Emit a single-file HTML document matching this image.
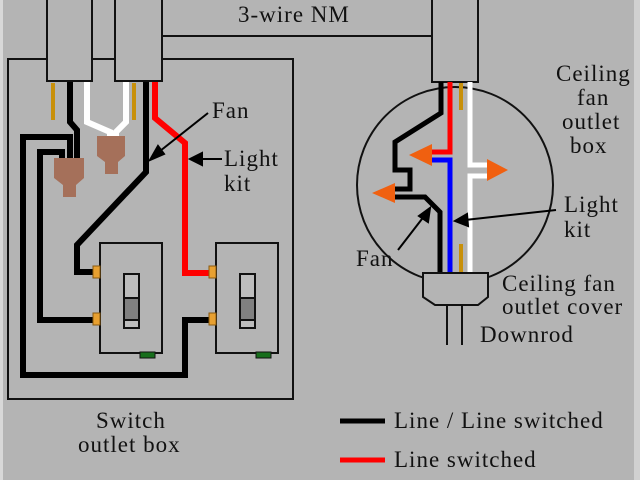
<!DOCTYPE html>
<html><head><meta charset="utf-8"><style>
html,body{margin:0;padding:0;background:#b4b4b4;}
svg{display:block;}
text{font-family:"Liberation Serif","DejaVu Serif",serif;fill:#111;font-size:23px;letter-spacing:1px;}
</style></head><body>
<svg width="640" height="480" viewBox="0 0 640 480">
<rect x="0" y="0" width="640" height="480" fill="#b4b4b4"/>
<rect x="0" y="0" width="3" height="480" fill="#d8d8d8"/>
<rect x="634" y="0" width="6" height="480" fill="#d0d0d0"/>
<g fill="none" stroke="#111" stroke-width="2">
<rect x="8" y="59" width="285" height="340"/>
<polyline points="162,81 162,36 432,36"/>
<rect x="47" y="-2" width="45" height="83" fill="#b4b4b4"/>
<rect x="115" y="-2" width="47" height="83" fill="#b4b4b4"/>
<circle cx="455" cy="185" r="98"/>
<rect x="432" y="-2" width="46" height="84" fill="#b4b4b4"/>
</g>
<g fill="none" stroke-width="6" stroke-linejoin="miter">
<line x1="53" y1="83" x2="53" y2="120" stroke="#c8900a" stroke-width="4"/>
<line x1="134" y1="83" x2="134" y2="120" stroke="#c8900a" stroke-width="4"/>
<polyline points="70,82 70,122 77,130 77,160" stroke="#000"/>
<polyline points="87,82 87,122 110,132 110,140" stroke="#fff"/>
<polyline points="126,82 126,122 116,132 116,140" stroke="#fff"/>
<polyline points="70,160 70,137 23,137 23,375 185,375 185,320 210,320" stroke="#000"/>
<polyline points="62,160 62,152 40,152 40,320 96,320" stroke="#000"/>
<polyline points="146,82 146,172 77,245 77,272 96,272" stroke="#000"/>
<polyline points="155,82 155,118 185,143 185,273 210,273" stroke="#f00"/>
</g>
<g fill="#a5705a">
<path d="M54,158 L84,158 L84,178 L76,185 L76,197 L63,197 L63,185 L54,178 Z"/>
<path d="M97,136 L125,136 L125,156 L118,162 L118,174 L105,174 L105,162 L97,156 Z"/>
</g>
<g stroke="#111" stroke-width="2">
<rect x="100" y="243" width="62" height="110" fill="#b4b4b4"/>
<rect x="216" y="243" width="62" height="110" fill="#b4b4b4"/>
<rect x="124" y="274" width="15" height="54" fill="#bdbdbd"/>
<rect x="240" y="274" width="15" height="54" fill="#bdbdbd"/>
<rect x="124" y="298" width="15" height="22" fill="#808080"/>
<rect x="240" y="298" width="15" height="22" fill="#808080"/>
<rect x="140" y="352" width="15" height="6" fill="#176e1c" stroke-width="1"/>
<rect x="256" y="352" width="15" height="6" fill="#176e1c" stroke-width="1"/>
</g>
<g fill="#e8a030" stroke="#8a5a10" stroke-width="1">
<rect x="93" y="266" width="7" height="12"/><rect x="93" y="313" width="7" height="12"/>
<rect x="209" y="266" width="7" height="12"/><rect x="209" y="313" width="7" height="12"/>
</g>
<g fill="none" stroke-width="5">
<line x1="461" y1="83" x2="461" y2="110" stroke="#c8900a" stroke-width="4"/>
<line x1="461" y1="244" x2="461" y2="272" stroke="#c8900a" stroke-width="4"/>
<polyline points="441,82 441,113 395,142 395,170 410,170 410,189 395,189" stroke="#000"/>
<polyline points="395,197 425,197 440,212 440,273" stroke="#000"/>
<polyline points="450,82 450,152 432,152" stroke="#f00"/>
<polyline points="432,160 450,160 450,273" stroke="#00f"/>
<polyline points="470,82 470,165 487,165" stroke="#fff"/>
<polyline points="487,176 470,176 470,273" stroke="#fff"/>
</g>
<g fill="#f06010">
<polygon points="409,155 432,144 432,166"/>
<polygon points="372,193 395,183 395,203"/>
<polygon points="508,170 487,159 487,181"/>
</g>
<g stroke="#111" stroke-width="2" fill="#b4b4b4">
<polygon points="423,273 488,273 488,297 478,305 435,305 423,297"/>
<path d="M447,305 L447,345 M462,305 L462,345" fill="none"/>
</g>
<g stroke="#000" stroke-width="2" fill="#000">
<line x1="208" y1="113" x2="155" y2="155"/><polygon points="150,160 158,146 164,154"/>
<line x1="222" y1="159" x2="200" y2="159"/><polygon points="190,159 202,153 202,165"/>
<line x1="398" y1="250" x2="425" y2="215"/><polygon points="430,208 428,222 419,216"/>
<line x1="556" y1="210" x2="465" y2="220"/><polygon points="455,221 467,214 468,226"/>
</g>
<text x="238" y="22">3-wire NM</text>
<text x="212" y="118">Fan</text>
<text x="224" y="166">Light</text>
<text x="224" y="191">kit</text>
<text x="556" y="81">Ceiling</text>
<text x="577" y="105">fan</text>
<text x="562" y="129">outlet</text>
<text x="570" y="153">box</text>
<text x="564" y="212">Light</text>
<text x="564" y="237">kit</text>
<text x="356" y="266">Fan</text>
<text x="502" y="291">Ceiling fan</text>
<text x="502" y="314">outlet cover</text>
<text x="480" y="342">Downrod</text>
<text x="96" y="428">Switch</text>
<text x="78" y="452">outlet box</text>
<line x1="340" y1="421" x2="385" y2="421" stroke="#000" stroke-width="5"/>
<line x1="340" y1="460" x2="385" y2="460" stroke="#f00" stroke-width="5"/>
<text x="394" y="428">Line / Line switched</text>
<text x="394" y="467">Line switched</text>
</svg>
</body></html>
